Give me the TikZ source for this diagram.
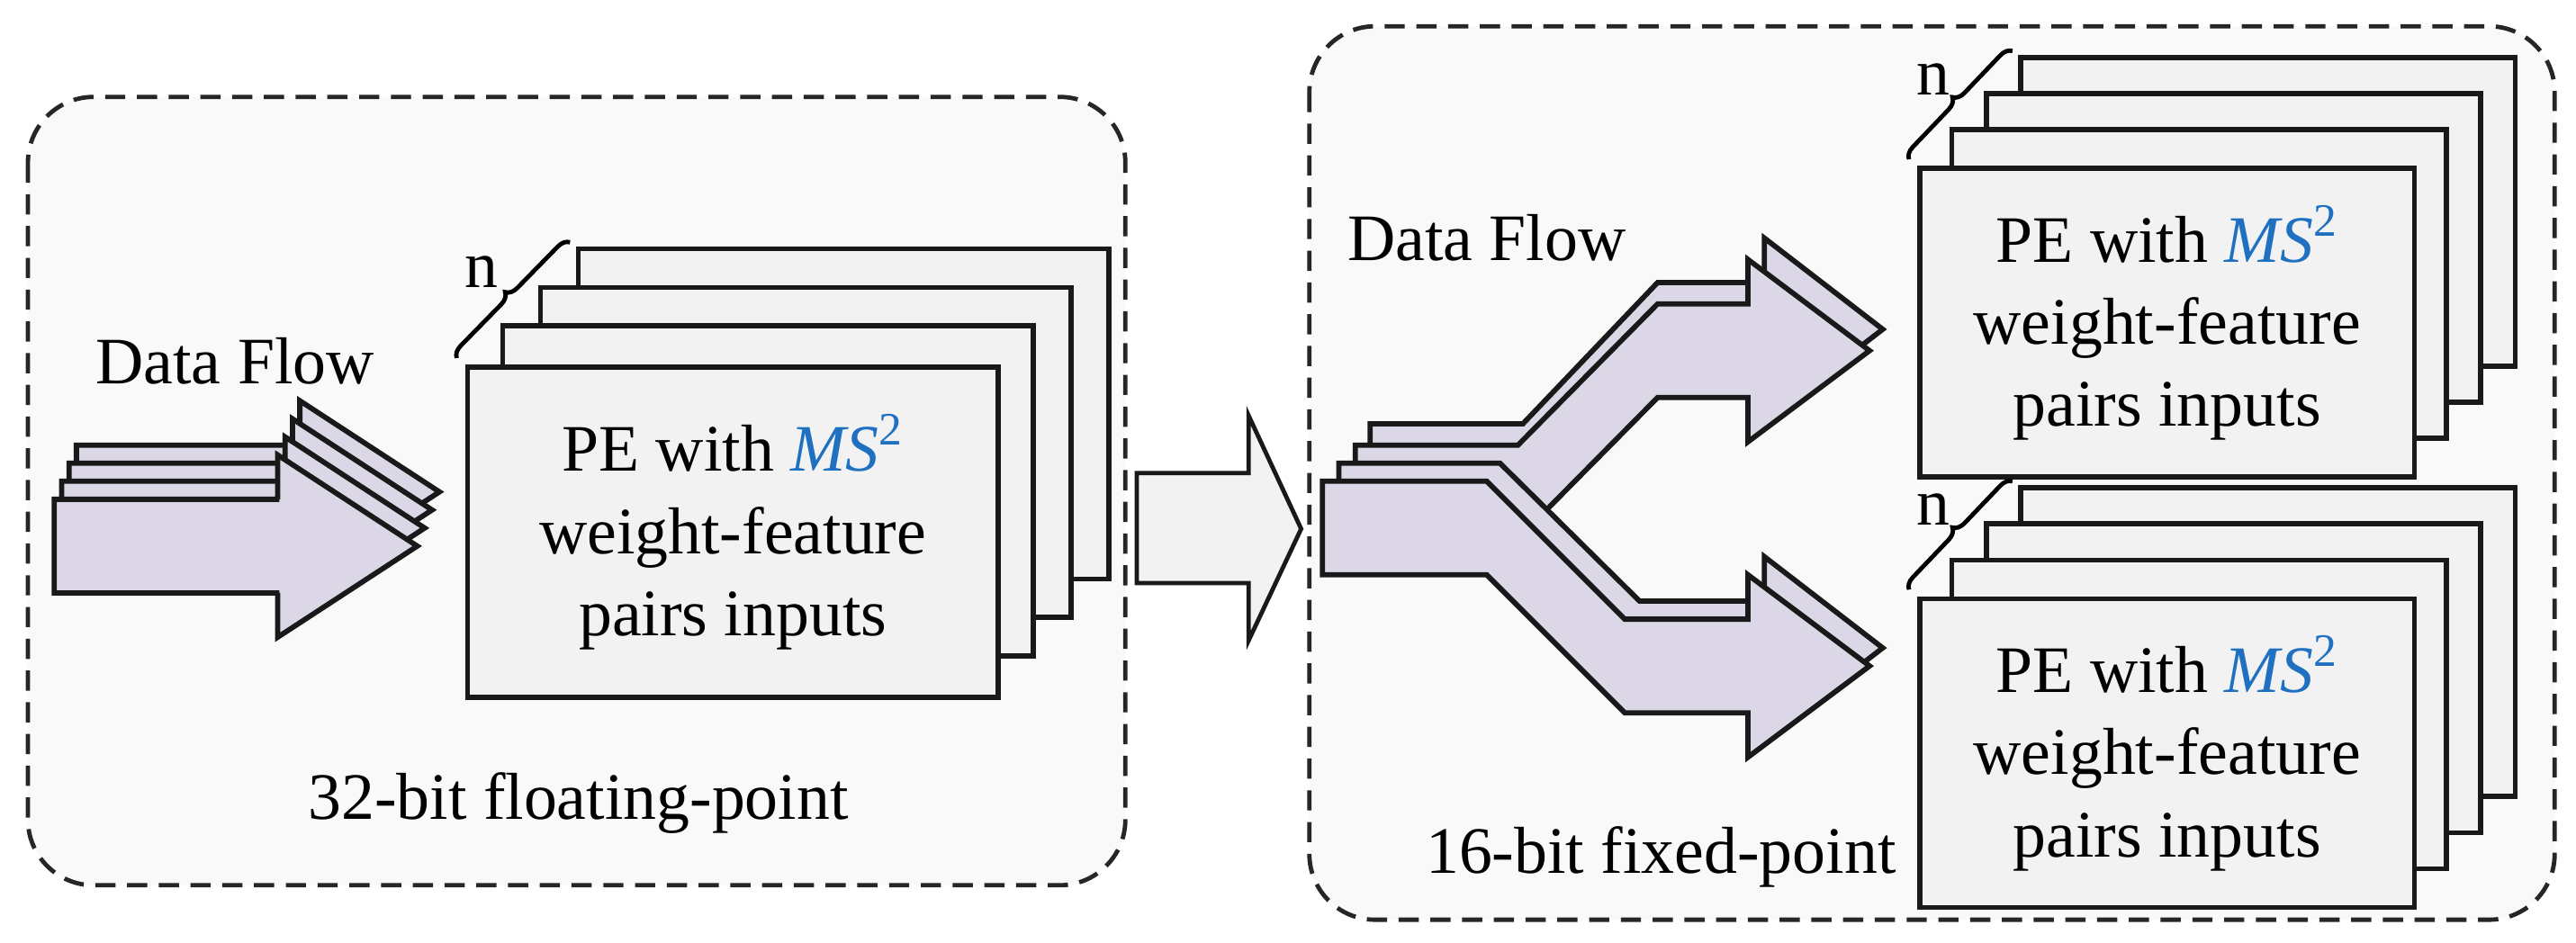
\documentclass[tikz,border=0pt]{standalone}
\usepackage{fontspec}
\setmainfont{Liberation Serif}
\usetikzlibrary{decorations.pathreplacing}
\definecolor{flowfill}{HTML}{DCD7E6}
\definecolor{pefill}{HTML}{F2F2F2}
\definecolor{boxfill}{HTML}{F9F9F9}
\definecolor{msblue}{HTML}{1F70C1}

% bent arrow: #1 left x, #2 top y, #3 bend start x, #4 bend end x,
% #5 vertical shift, #6 head base x, #7 head length
\newcommand{\flowarrow}[7]{%
  \filldraw[flow] (#1,#2) -- (#3,#2) -- ({#4},{#2+#5}) -- ({#6},{#2+#5})
    -- ({#6},{#2+#5-27}) -- ({#6+#7},{#2+#5+28.5}) -- ({#6},{#2+#5+84})
    -- ({#6},{#2+#5+57}) -- ({#4},{#2+#5+57}) -- (#3,{#2+57}) -- (#1,{#2+57}) -- cycle;}

% stack of PE boards: #1 name, #2 x1, #3 y1, #4 x2, #5 y2, #6 dx, #7 dy
\newcommand{\pestack}[7]{%
  \foreach \k in {3,2,1}
    \filldraw[pe] ({#2+\k*#6},{#3+\k*#7}) rectangle ({#4+\k*#6},{#5+\k*#7});
  \node[pe,minimum width={(#4-#2)*0.02cm},minimum height={(#5-#3)*0.02cm},
    anchor=north west] (#1) at (#2,#3) {};
  \node[petext] (#1-t) at (#1.center) {PE with {\color{msblue}\textit{MS}\textsuperscript{2}}\\weight-feature\\pairs inputs};
  \draw[decorate,decoration={brace,amplitude=0.14cm},line width=1.5pt]
    ({#2-5},{#3-4}) coordinate (#1-b1) -- ({#2+3*#6-5},{#3+3*#7-4}) coordinate (#1-b2);
  \node[txt] (#1-n) at ({#2+10},{#3+2.4*#7}) {n};
}

\begin{document}
\begin{tikzpicture}[x=0.02cm,y=-0.02cm,
  txt/.style={font=\fontsize{23}{28}\selectfont,inner sep=0pt},
  petext/.style={txt,align=center,font=\fontsize{23}{28.5}\selectfont},
  pe/.style={draw=black!90,fill=pefill,line width=1.8pt,inner sep=0pt},
  flow/.style={draw=black!90,fill=flowfill,line width=1.8pt,line join=miter},
  region/.style={draw=black!85,fill=boxfill,line width=1.5pt,dash pattern=on 7pt off 4pt,rounded corners=0.8cm}]
\useasboundingbox (0,0) rectangle (1568,574);

% regions
\filldraw[region] (17,59) rectangle (685,539);
\filldraw[region] (797,16) rectangle (1555,560);

% left data flow
\foreach \i in {3,2,1,0}
  \flowarrow{33+4.5*\i}{304-11*\i}{170+4.5*\i}{170+4.5*\i}{0}{169+4.5*\i}{85};

% middle arrow
\filldraw[pe,line width=1.5pt] (692,288) -- (760,288) -- (760,253) -- (792,322)
  -- (760,390) -- (760,355) -- (692,355) -- cycle;

% split data flow
\flowarrow{834}{258}{927}{1009}{-86}{1074}{72}
\flowarrow{825}{271}{924}{1009}{-86}{1064}{74}
\flowarrow{815}{282}{913}{998}{84}{1074}{72}
\flowarrow{805}{293}{905}{989}{84}{1064}{74}

% PE stacks
\pestack{peL}{283}{222}{606}{423}{23}{-23.5}
\pestack{peU}{1167}{101}{1468}{289}{21}{-22}
\pestack{peD}{1167}{363}{1468}{551}{21}{-22}

% labels
\node[txt] (dfL) at (143,220) {Data Flow};
\node[txt] (dfR) at (905,145) {Data Flow};
\node[txt] (fp32) at (352,489) {32-bit floating-point};
\node[txt] (fx16) at (1011,522) {16-bit fixed-point};
\end{tikzpicture}
\end{document}
